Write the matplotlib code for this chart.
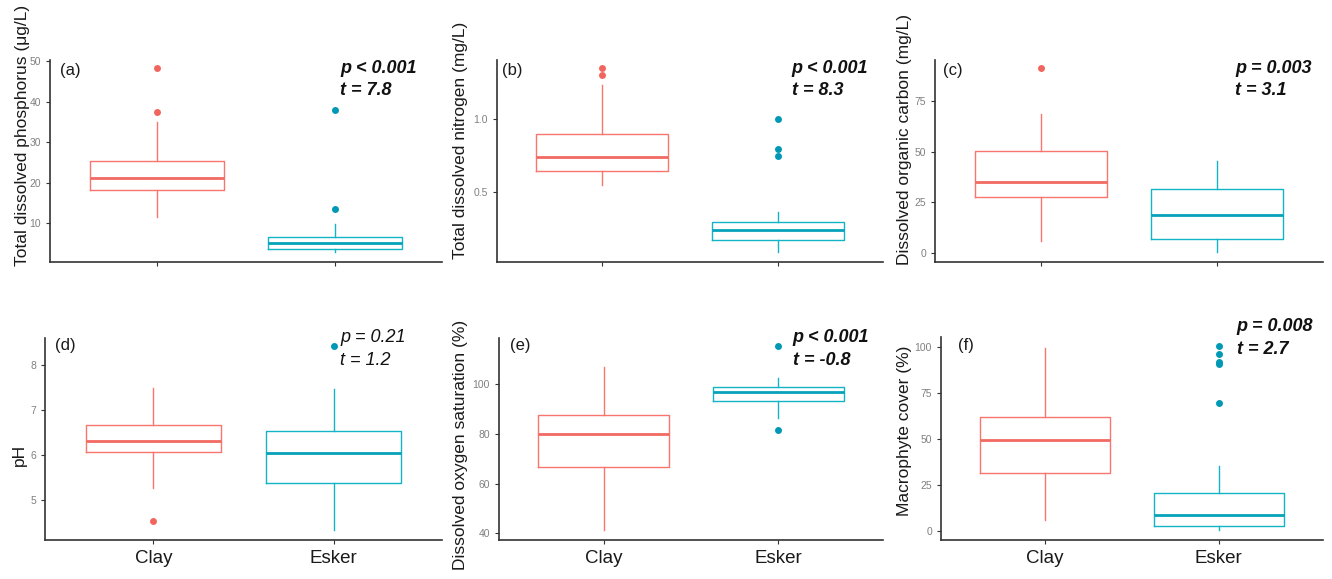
import matplotlib
matplotlib.use("Agg")
import matplotlib.pyplot as plt

plt.rcParams['font.family'] = ['Liberation Sans', 'DejaVu Sans']

groups = ['Clay', 'Esker']
clay_col = '#F8766D'
esker_col = '#14B4C8'
clay_med = '#F26A61'
esker_med = '#06A2BA'
clay_pt = '#F0665E'
esker_pt = '#0098B4'

# box stats: [whisker low, Q1, median, Q3, whisker high]
tdp_clay = [11.6, 18.1, 21.2, 25.3, 34.9]
tdp_esker = [2.9, 3.7, 5.2, 6.6, 9.8]
tdp_clay_out = [48.2, 37.3]
tdp_esker_out = [37.9, 13.6]

tdn_clay = [0.552, 0.643, 0.741, 0.90, 1.227]
tdn_esker = [0.097, 0.177, 0.245, 0.298, 0.366]
tdn_clay_out = [1.348, 1.295]
tdn_esker_out = [1.0, 0.797, 0.745]

doc_clay = [5.8, 27.3, 34.8, 50.3, 68.4]
doc_esker = [0.3, 6.7, 18.6, 31.4, 45.4]
doc_clay_out = [91.2]
doc_esker_out = []

ph_clay = [5.27, 6.06, 6.30, 6.65, 7.48]
ph_esker = [4.33, 5.37, 6.04, 6.52, 7.46]
ph_clay_out = [4.53]
ph_esker_out = [8.42]

dos_clay = [41.3, 66.6, 80.0, 87.4, 106.8]
dos_esker = [86.3, 93.3, 96.8, 99.0, 102.4]
dos_clay_out = []
dos_esker_out = [115.4, 81.6]

mac_clay = [5.8, 31.2, 49.3, 62.0, 99.6]
mac_esker = [0.4, 2.7, 8.5, 20.3, 35.3]
mac_clay_out = []
mac_esker_out = [100.4, 96.4, 91.9, 90.6, 69.6]

ylabels = ['Total dissolved phosphorus (μg/L)', 'Total dissolved nitrogen (mg/L)',
           'Dissolved organic carbon (mg/L)', 'pH',
           'Dissolved oxygen saturation (%)', 'Macrophyte cover (%)']
panel_tags = ['(a)', '(b)', '(c)', '(d)', '(e)', '(f)']
p_texts = ['p < 0.001', 'p < 0.001', 'p = 0.003', 'p = 0.21', 'p < 0.001', 'p = 0.008']
t_texts = ['t = 7.8', 't = 8.3', 't = 3.1', 't = 1.2', 't = -0.8', 't = 2.7']
bold_flags = [True, True, True, False, True, True]

yticks = [[10, 20, 30, 40, 50], [0.5, 1.0], [0, 25, 50, 75], [5, 6, 7, 8],
          [40, 60, 80, 100], [0, 25, 50, 75, 100]]
ytick_labels = [['10', '20', '30', '40', '50'], ['0.5', '1.0'], ['0', '25', '50', '75'],
                ['5', '6', '7', '8'], ['40', '60', '80', '100'], ['0', '25', '50', '75', '100']]
ylims = [(0.4, 50.25), (0.027, 1.40), (-4.6, 95.3), (4.11, 8.59), (37.3, 118.5), (-5.1, 105.4)]

data = [(tdp_clay, tdp_esker, tdp_clay_out, tdp_esker_out),
        (tdn_clay, tdn_esker, tdn_clay_out, tdn_esker_out),
        (doc_clay, doc_esker, doc_clay_out, doc_esker_out),
        (ph_clay, ph_esker, ph_clay_out, ph_esker_out),
        (dos_clay, dos_esker, dos_clay_out, dos_esker_out),
        (mac_clay, mac_esker, mac_clay_out, mac_esker_out)]

# layout in pixels: left, right, top, bottom
W, H = 1332, 579
boxes_px = [(50, 442, 60, 262), (497, 883, 60, 262), (935, 1323, 60, 262),
            (45, 442, 338, 540), (499, 883, 338, 540), (941, 1323, 337, 540)]
label_xy = [(-0.051, 0.629), (-0.075, 0.604), (-0.060, 0.604),
            (-0.046, 0.42), (-0.080, 0.473), (-0.077, 0.537)]
tag_xy = [(0.026, 0.95), (0.012, 0.95), (0.02, 0.95), (0.025, 0.965), (0.029, 0.965), (0.045, 0.96)]
stat_xy = [(0.74, 0.96, 0.85), (0.763, 0.96, 0.85), (0.773, 0.96, 0.85),
           (0.743, 1.0, 0.888), (0.765, 1.0, 0.888), (0.774, 1.054, 0.936)]

fig = plt.figure(figsize=(W / 100, H / 100), dpi=100)

for i in range(6):
    l, r, t, b = boxes_px[i]
    ax = fig.add_axes([l / W, 1 - b / H, (r - l) / W, (b - t) / H])
    cs, es, co, eo = data[i]
    stats = []
    for s, name in [(cs, 'Clay'), (es, 'Esker')]:
        stats.append(dict(whislo=s[0], q1=s[1], med=s[2], q3=s[3], whishi=s[4],
                          fliers=[], label=name))
    bp = ax.bxp(stats, positions=[1, 2], widths=0.75, showcaps=False,
                showfliers=False, patch_artist=False)
    for j, (col, mcol) in enumerate([(clay_col, clay_med), (esker_col, esker_med)]):
        bp['boxes'][j].set_color(col)
        bp['boxes'][j].set_linewidth(1.0)
        bp['medians'][j].set_color(mcol)
        bp['medians'][j].set_linewidth(2.0)
        for w in bp['whiskers'][2 * j:2 * j + 2]:
            w.set_color(col)
            w.set_linewidth(1.0)
    ax.plot([1] * len(co), co, 'o', color=clay_pt, ms=5, mec='none')
    ax.plot([2] * len(eo), eo, 'o', color=esker_pt, ms=5, mec='none')

    ax.set_xlim(0.4, 2.6)
    ax.set_ylim(*ylims[i])
    ax.set_yticks(yticks[i])
    ax.set_yticklabels(ytick_labels[i])
    ax.set_xticks([1, 2])
    if i >= 3:
        ax.set_xticklabels(groups, fontsize=13.5, color='#1a1a1a')
    else:
        ax.set_xticklabels(['', ''])
    ax.tick_params(axis='y', labelsize=7.5, labelcolor='#808080', color='#333333', length=3, width=0.8)
    ax.tick_params(axis='x', color='#333333', length=3, width=0.8, pad=4)
    for sp in ['top', 'right']:
        ax.spines[sp].set_visible(False)
    for sp in ['left', 'bottom']:
        ax.spines[sp].set_color('#333333')
        ax.spines[sp].set_linewidth(1.2)

    ax.set_ylabel(ylabels[i], fontsize=12.5, color='#1a1a1a')
    ax.yaxis.set_label_coords(*label_xy[i])
    ax.text(tag_xy[i][0], tag_xy[i][1], panel_tags[i], transform=ax.transAxes,
            fontsize=12, va='center', ha='left', color='#1a1a1a')
    wt = 'bold' if bold_flags[i] else 'normal'
    sx, py, ty = stat_xy[i]
    ax.text(sx, py, p_texts[i], transform=ax.transAxes, fontsize=13, style='italic',
            weight=wt, va='center', ha='left', color='#111111')
    ax.text(sx, ty, t_texts[i], transform=ax.transAxes, fontsize=13, style='italic',
            weight=wt, va='center', ha='left', color='#111111')

fig.savefig('out.png', dpi=100)
